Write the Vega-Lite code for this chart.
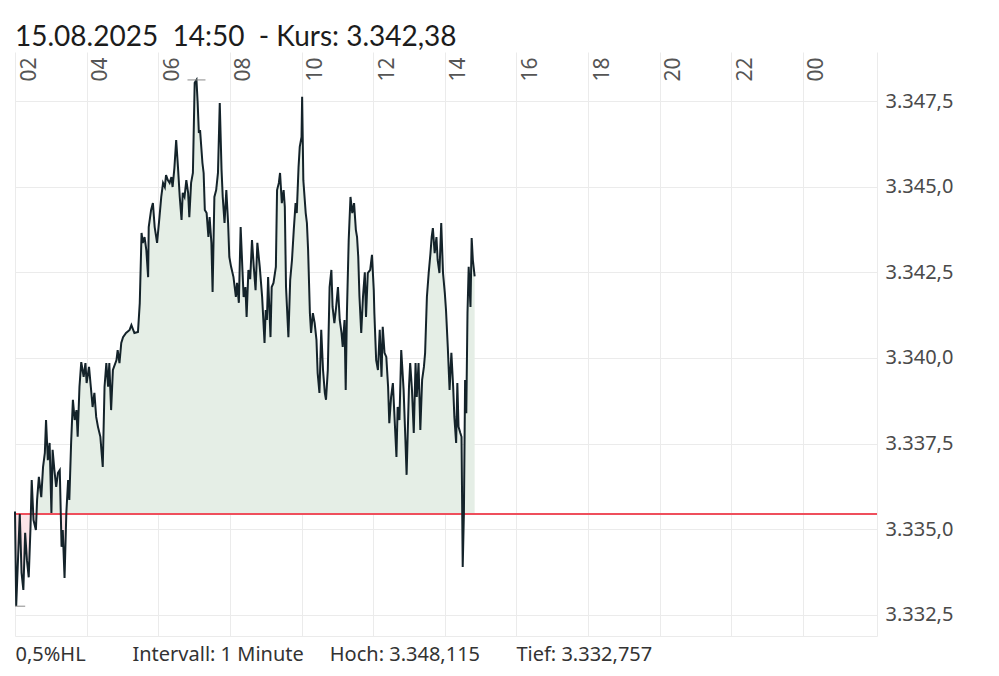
{
  "$schema": "https://vega.github.io/schema/vega-lite/v6.json",
  "width": 862,
  "height": 584,
  "autosize": {"type": "none"},
  "padding": {"left": 15, "top": 52, "right": 122, "bottom": 40},
  "background": "white",
  "config": {
    "view": {"stroke": null},
    "locale": {"number": {"decimal": ",", "thousands": ".", "grouping": [3], "currency": ["", " €"]}}
  },
  "title": {
    "text": "15.08.2025\u00a0\u00a014:50\u00a0\u00a0- Kurs: 3.342,38",
    "anchor": "start",
    "frame": "group",
    "font": "Lato",
    "fontSize": 28,
    "fontWeight": "normal",
    "color": "#1c1c1c",
    "offset": 0
  },
  "datasets": {
    "hl": [
      {"t": "2025-08-15T07:04", "v": 3348.115},
      {"t": "2025-08-15T02:02", "v": 3332.757}
    ]
  },
  "data": {"values": [
    {"t":"2025-08-15T02:00","v":3335.52},{"t":"2025-08-15T02:02","v":3332.76},{"t":"2025-08-15T02:08","v":3335.45},{"t":"2025-08-15T02:11","v":3333.73},{"t":"2025-08-15T02:14","v":3333.23},{"t":"2025-08-15T02:17","v":3334.90},{"t":"2025-08-15T02:20","v":3334.10},{"t":"2025-08-15T02:23","v":3333.60},{"t":"2025-08-15T02:26","v":3335.07},{"t":"2025-08-15T02:28","v":3336.44},{"t":"2025-08-15T02:31","v":3335.27},{"t":"2025-08-15T02:35","v":3334.98},{"t":"2025-08-15T02:37","v":3335.86},{"t":"2025-08-15T02:40","v":3336.53},{"t":"2025-08-15T02:44","v":3335.94},{"t":"2025-08-15T02:47","v":3336.82},{"t":"2025-08-15T02:50","v":3337.23},{"t":"2025-08-15T02:52","v":3338.19},{"t":"2025-08-15T02:55","v":3337.02},{"t":"2025-08-15T02:58","v":3337.52},
    {"t":"2025-08-15T03:01","v":3335.48},{"t":"2025-08-15T03:03","v":3337.32},{"t":"2025-08-15T03:06","v":3336.73},{"t":"2025-08-15T03:09","v":3336.24},{"t":"2025-08-15T03:12","v":3336.65},{"t":"2025-08-15T03:15","v":3336.73},{"t":"2025-08-15T03:18","v":3334.49},{"t":"2025-08-15T03:20","v":3334.98},{"t":"2025-08-15T03:23","v":3333.58},{"t":"2025-08-15T03:26","v":3335.48},{"t":"2025-08-15T03:29","v":3336.44},{"t":"2025-08-15T03:31","v":3335.86},{"t":"2025-08-15T03:34","v":3337.52},{"t":"2025-08-15T03:37","v":3338.78},{"t":"2025-08-15T03:40","v":3338.19},{"t":"2025-08-15T03:43","v":3338.48},{"t":"2025-08-15T03:45","v":3337.70},{"t":"2025-08-15T03:48","v":3339.16},{"t":"2025-08-15T03:51","v":3339.88},{"t":"2025-08-15T03:55","v":3339.45},{"t":"2025-08-15T03:58","v":3339.85},
    {"t":"2025-08-15T04:00","v":3339.27},{"t":"2025-08-15T04:04","v":3339.74},{"t":"2025-08-15T04:07","v":3339.16},{"t":"2025-08-15T04:10","v":3338.57},{"t":"2025-08-15T04:13","v":3338.98},{"t":"2025-08-15T04:16","v":3338.28},{"t":"2025-08-15T04:19","v":3337.99},{"t":"2025-08-15T04:23","v":3337.70},{"t":"2025-08-15T04:27","v":3336.82},{"t":"2025-08-15T04:30","v":3339.16},{"t":"2025-08-15T04:33","v":3339.85},{"t":"2025-08-15T04:36","v":3339.16},{"t":"2025-08-15T04:38","v":3339.85},{"t":"2025-08-15T04:41","v":3338.48},{"t":"2025-08-15T04:44","v":3339.65},{"t":"2025-08-15T04:50","v":3339.94},{"t":"2025-08-15T04:52","v":3340.23},{"t":"2025-08-15T04:55","v":3339.85},{"t":"2025-08-15T04:58","v":3340.44},
    {"t":"2025-08-15T05:01","v":3340.61},{"t":"2025-08-15T05:06","v":3340.73},{"t":"2025-08-15T05:12","v":3340.82},{"t":"2025-08-15T05:15","v":3340.96},{"t":"2025-08-15T05:20","v":3340.73},{"t":"2025-08-15T05:26","v":3340.76},{"t":"2025-08-15T05:29","v":3341.60},{"t":"2025-08-15T05:32","v":3343.65},{"t":"2025-08-15T05:34","v":3343.36},{"t":"2025-08-15T05:37","v":3343.53},{"t":"2025-08-15T05:40","v":3343.15},{"t":"2025-08-15T05:43","v":3342.36},{"t":"2025-08-15T05:44","v":3343.82},{"t":"2025-08-15T05:48","v":3344.32},{"t":"2025-08-15T05:51","v":3344.52},{"t":"2025-08-15T05:54","v":3343.82},{"t":"2025-08-15T05:58","v":3343.36},
    {"t":"2025-08-15T06:02","v":3344.11},{"t":"2025-08-15T06:05","v":3344.70},{"t":"2025-08-15T06:08","v":3345.11},{"t":"2025-08-15T06:11","v":3344.99},{"t":"2025-08-15T06:13","v":3345.34},{"t":"2025-08-15T06:16","v":3345.19},{"t":"2025-08-15T06:19","v":3345.11},{"t":"2025-08-15T06:22","v":3345.28},{"t":"2025-08-15T06:24","v":3344.99},{"t":"2025-08-15T06:27","v":3345.54},{"t":"2025-08-15T06:30","v":3346.36},{"t":"2025-08-15T06:33","v":3345.57},{"t":"2025-08-15T06:36","v":3344.70},{"t":"2025-08-15T06:39","v":3344.03},{"t":"2025-08-15T06:41","v":3344.82},{"t":"2025-08-15T06:44","v":3344.70},{"t":"2025-08-15T06:47","v":3345.19},{"t":"2025-08-15T06:50","v":3344.82},{"t":"2025-08-15T06:52","v":3344.11},{"t":"2025-08-15T06:55","v":3345.11},{"t":"2025-08-15T06:58","v":3345.40},
    {"t":"2025-08-15T07:01","v":3348.03},{"t":"2025-08-15T07:04","v":3348.115},{"t":"2025-08-15T07:06","v":3347.44},{"t":"2025-08-15T07:08","v":3346.57},{"t":"2025-08-15T07:10","v":3346.65},{"t":"2025-08-15T07:14","v":3345.69},{"t":"2025-08-15T07:16","v":3345.40},{"t":"2025-08-15T07:18","v":3344.32},{"t":"2025-08-15T07:21","v":3344.23},{"t":"2025-08-15T07:24","v":3343.53},{"t":"2025-08-15T07:26","v":3344.11},{"t":"2025-08-15T07:29","v":3343.36},{"t":"2025-08-15T07:31","v":3341.93},{"t":"2025-08-15T07:34","v":3344.70},{"t":"2025-08-15T07:37","v":3344.90},{"t":"2025-08-15T07:40","v":3345.40},{"t":"2025-08-15T07:43","v":3347.44},{"t":"2025-08-15T07:46","v":3345.49},{"t":"2025-08-15T07:48","v":3344.70},{"t":"2025-08-15T07:51","v":3343.94},{"t":"2025-08-15T07:54","v":3344.90},{"t":"2025-08-15T07:57","v":3343.94},{"t":"2025-08-15T07:59","v":3342.95},
    {"t":"2025-08-15T08:02","v":3342.66},{"t":"2025-08-15T08:06","v":3342.36},{"t":"2025-08-15T08:10","v":3341.78},{"t":"2025-08-15T08:12","v":3342.19},{"t":"2025-08-15T08:15","v":3341.61},{"t":"2025-08-15T08:18","v":3343.82},{"t":"2025-08-15T08:21","v":3342.57},{"t":"2025-08-15T08:23","v":3341.78},{"t":"2025-08-15T08:26","v":3342.07},{"t":"2025-08-15T08:28","v":3341.20},{"t":"2025-08-15T08:31","v":3342.57},{"t":"2025-08-15T08:34","v":3342.30},{"t":"2025-08-15T08:37","v":3343.44},{"t":"2025-08-15T08:40","v":3342.66},{"t":"2025-08-15T08:43","v":3341.98},{"t":"2025-08-15T08:46","v":3343.36},{"t":"2025-08-15T08:50","v":3342.66},{"t":"2025-08-15T08:54","v":3341.78},{"t":"2025-08-15T08:58","v":3340.44},
    {"t":"2025-08-15T09:00","v":3341.40},{"t":"2025-08-15T09:02","v":3341.11},{"t":"2025-08-15T09:04","v":3342.36},{"t":"2025-08-15T09:08","v":3340.61},{"t":"2025-08-15T09:10","v":3342.07},{"t":"2025-08-15T09:13","v":3342.19},{"t":"2025-08-15T09:17","v":3342.66},{"t":"2025-08-15T09:19","v":3344.90},{"t":"2025-08-15T09:22","v":3345.11},{"t":"2025-08-15T09:24","v":3345.40},{"t":"2025-08-15T09:27","v":3344.52},{"t":"2025-08-15T09:30","v":3344.90},{"t":"2025-08-15T09:32","v":3344.41},{"t":"2025-08-15T09:34","v":3342.07},{"t":"2025-08-15T09:38","v":3340.61},{"t":"2025-08-15T09:41","v":3342.28},{"t":"2025-08-15T09:44","v":3342.86},{"t":"2025-08-15T09:47","v":3343.74},{"t":"2025-08-15T09:50","v":3344.52},{"t":"2025-08-15T09:52","v":3344.23},{"t":"2025-08-15T09:55","v":3345.57},{"t":"2025-08-15T09:57","v":3346.16},
    {"t":"2025-08-15T10:00","v":3346.45},{"t":"2025-08-15T10:01","v":3347.62},{"t":"2025-08-15T10:03","v":3345.19},{"t":"2025-08-15T10:07","v":3344.23},{"t":"2025-08-15T10:09","v":3343.94},{"t":"2025-08-15T10:11","v":3343.15},{"t":"2025-08-15T10:14","v":3341.31},{"t":"2025-08-15T10:16","v":3340.73},{"t":"2025-08-15T10:19","v":3341.31},{"t":"2025-08-15T10:22","v":3341.02},{"t":"2025-08-15T10:25","v":3340.53},{"t":"2025-08-15T10:27","v":3339.56},{"t":"2025-08-15T10:30","v":3338.98},{"t":"2025-08-15T10:33","v":3340.82},{"t":"2025-08-15T10:36","v":3339.65},{"t":"2025-08-15T10:39","v":3338.98},{"t":"2025-08-15T10:41","v":3338.78},{"t":"2025-08-15T10:44","v":3339.65},{"t":"2025-08-15T10:47","v":3342.07},{"t":"2025-08-15T10:50","v":3342.57},{"t":"2025-08-15T10:52","v":3341.49},{"t":"2025-08-15T10:55","v":3341.02},{"t":"2025-08-15T10:58","v":3341.49},
    {"t":"2025-08-15T11:01","v":3342.07},{"t":"2025-08-15T11:04","v":3341.11},{"t":"2025-08-15T11:07","v":3340.73},{"t":"2025-08-15T11:09","v":3340.32},{"t":"2025-08-15T11:12","v":3341.11},{"t":"2025-08-15T11:14","v":3339.07},{"t":"2025-08-15T11:16","v":3341.31},{"t":"2025-08-15T11:19","v":3343.44},{"t":"2025-08-15T11:22","v":3344.70},{"t":"2025-08-15T11:25","v":3344.23},{"t":"2025-08-15T11:28","v":3344.52},{"t":"2025-08-15T11:31","v":3343.74},{"t":"2025-08-15T11:33","v":3343.53},{"t":"2025-08-15T11:35","v":3342.95},{"t":"2025-08-15T11:37","v":3341.80},{"t":"2025-08-15T11:40","v":3340.73},{"t":"2025-08-15T11:43","v":3341.80},{"t":"2025-08-15T11:46","v":3342.50},{"t":"2025-08-15T11:48","v":3341.20},{"t":"2025-08-15T11:51","v":3342.48},{"t":"2025-08-15T11:55","v":3342.57},{"t":"2025-08-15T11:58","v":3343.01},
    {"t":"2025-08-15T12:01","v":3341.98},{"t":"2025-08-15T12:02","v":3341.31},{"t":"2025-08-15T12:05","v":3339.94},{"t":"2025-08-15T12:08","v":3339.65},{"t":"2025-08-15T12:11","v":3340.82},{"t":"2025-08-15T12:14","v":3339.45},{"t":"2025-08-15T12:16","v":3340.91},{"t":"2025-08-15T12:19","v":3340.15},{"t":"2025-08-15T12:22","v":3340.03},{"t":"2025-08-15T12:25","v":3339.16},{"t":"2025-08-15T12:27","v":3338.10},{"t":"2025-08-15T12:30","v":3338.86},{"t":"2025-08-15T12:33","v":3339.27},{"t":"2025-08-15T12:36","v":3338.19},{"t":"2025-08-15T12:39","v":3337.11},{"t":"2025-08-15T12:41","v":3338.57},{"t":"2025-08-15T12:44","v":3338.19},{"t":"2025-08-15T12:47","v":3340.23},{"t":"2025-08-15T12:51","v":3339.07},{"t":"2025-08-15T12:54","v":3337.61},{"t":"2025-08-15T12:56","v":3336.59},
    {"t":"2025-08-15T13:00","v":3339.16},{"t":"2025-08-15T13:02","v":3339.85},{"t":"2025-08-15T13:05","v":3339.07},{"t":"2025-08-15T13:08","v":3337.81},{"t":"2025-08-15T13:11","v":3339.85},{"t":"2025-08-15T13:13","v":3338.86},{"t":"2025-08-15T13:16","v":3339.85},{"t":"2025-08-15T13:19","v":3337.90},{"t":"2025-08-15T13:22","v":3339.36},{"t":"2025-08-15T13:25","v":3339.74},{"t":"2025-08-15T13:27","v":3340.15},{"t":"2025-08-15T13:30","v":3341.78},{"t":"2025-08-15T13:33","v":3342.48},{"t":"2025-08-15T13:36","v":3343.06},{"t":"2025-08-15T13:38","v":3343.53},{"t":"2025-08-15T13:40","v":3343.79},{"t":"2025-08-15T13:43","v":3343.06},{"t":"2025-08-15T13:46","v":3343.53},{"t":"2025-08-15T13:48","v":3342.86},{"t":"2025-08-15T13:51","v":3342.48},{"t":"2025-08-15T13:54","v":3343.94},{"t":"2025-08-15T13:57","v":3342.48},
    {"t":"2025-08-15T14:00","v":3341.90},{"t":"2025-08-15T14:02","v":3341.40},{"t":"2025-08-15T14:05","v":3340.32},{"t":"2025-08-15T14:08","v":3339.07},{"t":"2025-08-15T14:11","v":3340.15},{"t":"2025-08-15T14:14","v":3339.16},{"t":"2025-08-15T14:16","v":3338.28},{"t":"2025-08-15T14:19","v":3337.52},{"t":"2025-08-15T14:21","v":3339.27},{"t":"2025-08-15T14:23","v":3337.99},{"t":"2025-08-15T14:26","v":3337.81},{"t":"2025-08-15T14:28","v":3337.70},{"t":"2025-08-15T14:30","v":3333.90},{"t":"2025-08-15T14:32","v":3335.48},{"t":"2025-08-15T14:34","v":3339.36},{"t":"2025-08-15T14:36","v":3338.39},{"t":"2025-08-15T14:38","v":3341.31},{"t":"2025-08-15T14:40","v":3342.66},{"t":"2025-08-15T14:43","v":3341.49},{"t":"2025-08-15T14:45","v":3343.50},{"t":"2025-08-15T14:47","v":3342.86},{"t":"2025-08-15T14:50","v":3342.38}
  ]},
  "resolve": {"axis": {"x": "independent"}},
  "layer": [
    {
      "mark": {"type": "area", "color": "#e5eee6", "opacity": 1},
      "encoding": {
        "x": {
          "field": "t", "type": "temporal",
          "scale": {"domain": [{"year": 2025, "month": 8, "date": 15, "hours": 2}, {"year": 2025, "month": 8, "date": 16, "hours": 2, "minutes": 4}]},
          "axis": {
            "orient": "top", "title": null, "format": "%H",
            "values": [
              {"year": 2025, "month": 8, "date": 15, "hours": 2},
              {"year": 2025, "month": 8, "date": 15, "hours": 4},
              {"year": 2025, "month": 8, "date": 15, "hours": 6},
              {"year": 2025, "month": 8, "date": 15, "hours": 8},
              {"year": 2025, "month": 8, "date": 15, "hours": 10},
              {"year": 2025, "month": 8, "date": 15, "hours": 12},
              {"year": 2025, "month": 8, "date": 15, "hours": 14},
              {"year": 2025, "month": 8, "date": 15, "hours": 16},
              {"year": 2025, "month": 8, "date": 15, "hours": 18},
              {"year": 2025, "month": 8, "date": 15, "hours": 20},
              {"year": 2025, "month": 8, "date": 15, "hours": 22},
              {"year": 2025, "month": 8, "date": 16, "hours": 0}
            ],
            "ticks": false, "domain": false,
            "grid": true, "gridColor": "#ebebeb", "gridWidth": 1,
            "labelAngle": -90, "labelAlign": "right", "labelBaseline": "middle",
            "labelPadding": -5, "labelOffset": 14,
            "labelFont": "Noto Sans", "labelFontSize": 21, "labelColor": "#555555",
            "labelFlush": false, "labelOverlap": false
          }
        },
        "y": {
          "field": "v", "type": "quantitative",
          "scale": {"domain": [3331.887, 3348.93], "zero": false, "nice": false},
          "axis": {
            "orient": "right", "title": null, "format": ",.1f",
            "values": [3332.5, 3335, 3337.5, 3340, 3342.5, 3345, 3347.5],
            "ticks": false, "domain": true, "domainColor": "#ebebeb", "domainWidth": 1,
            "grid": true, "gridColor": "#ebebeb", "gridWidth": 1,
            "labelPadding": 8, "labelFont": "Noto Sans", "labelFontSize": 20, "labelColor": "#4a4a4a",
            "labelFlush": false, "labelOverlap": false
          }
        },
        "y2": {"datum": 3335.45}
      }
    },
    {
      "transform": [{"filter": {"field": "t", "range": [{"year": 2025, "month": 8, "date": 15, "hours": 2}, {"year": 2025, "month": 8, "date": 15, "hours": 2, "minutes": 35}]}}],
      "mark": {"type": "area", "color": "#fbe4e7", "opacity": 1},
      "encoding": {
        "x": {"field": "t", "type": "temporal", "axis": null},
        "y": {"field": "v", "type": "quantitative"},
        "y2": {"datum": 3335.45}
      }
    },
    {
      "transform": [{"filter": {"field": "t", "range": [{"year": 2025, "month": 8, "date": 15, "hours": 3, "minutes": 18}, {"year": 2025, "month": 8, "date": 15, "hours": 3, "minutes": 26}]}}],
      "mark": {"type": "area", "color": "#fbe4e7", "opacity": 1},
      "encoding": {
        "x": {"field": "t", "type": "temporal", "axis": null},
        "y": {"field": "v", "type": "quantitative"},
        "y2": {"datum": 3335.45}
      }
    },
    {
      "mark": {"type": "rule", "color": "#ef4f5c", "strokeWidth": 1.5},
      "encoding": {"y": {"datum": 3335.45, "type": "quantitative"}}
    },
    {
      "mark": {"type": "line", "color": "#14232a", "strokeWidth": 2, "strokeJoin": "miter"},
      "encoding": {
        "x": {
          "field": "t", "type": "temporal",
          "axis": {
            "orient": "bottom", "labels": false, "ticks": false, "grid": false,
            "domain": true, "domainColor": "#ebebeb", "domainWidth": 1,
            "title": "0,5%HL\u00a0\u00a0\u00a0\u00a0\u00a0\u00a0\u00a0\u00a0\u00a0Intervall: 1 Minute\u00a0\u00a0\u00a0\u00a0\u00a0Hoch: 3.348,115\u00a0\u00a0\u00a0\u00a0\u00a0\u00a0\u00a0Tief: 3.332,757",
            "titleAnchor": "start", "titleAlign": "left", "titleFont": "Noto Sans", "titleFontSize": 20,
            "titleFontWeight": "normal", "titleColor": "#333333", "titlePadding": 8
          }
        },
        "y": {"field": "v", "type": "quantitative"}
      }
    },
    {
      "data": {"name": "hl"},
      "mark": {"type": "tick", "orient": "horizontal", "color": "#8a8a8a", "size": 18, "thickness": 1, "clip": true, "opacity": 1},
      "encoding": {
        "x": {"field": "t", "type": "temporal", "axis": null},
        "y": {"field": "v", "type": "quantitative"}
      }
    }
  ]
}
